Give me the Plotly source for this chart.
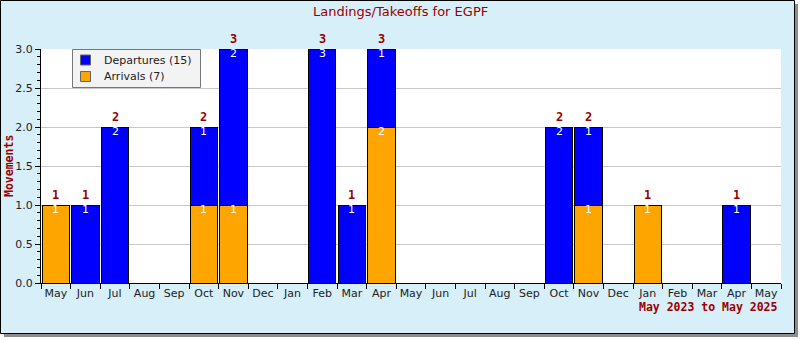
import plotly.graph_objects as go

months = ["2023-05", "2023-06", "2023-07", "2023-08", "2023-09", "2023-10", "2023-11",
          "2023-12", "2024-01", "2024-02", "2024-03", "2024-04", "2024-05", "2024-06",
          "2024-07", "2024-08", "2024-09", "2024-10", "2024-11", "2024-12", "2025-01",
          "2025-02", "2025-03", "2025-04", "2025-05"]
month_labels = ["May", "Jun", "Jul", "Aug", "Sep", "Oct", "Nov", "Dec", "Jan", "Feb", "Mar",
                "Apr", "May", "Jun", "Jul", "Aug", "Sep", "Oct", "Nov", "Dec", "Jan", "Feb",
                "Mar", "Apr", "May"]
arrivals = [1, 0, 0, 0, 0, 1, 1, 0, 0, 0, 0, 2, 0, 0, 0, 0, 0, 0, 1, 0, 1, 0, 0, 0, 0]
departures = [0, 1, 2, 0, 0, 1, 2, 0, 0, 3, 1, 1, 0, 0, 0, 0, 0, 2, 1, 0, 0, 0, 0, 1, 0]

totals = [a + d for a, d in zip(arrivals, departures)]
DARKRED = "#9b0000"
DEP_COLOR = "#0000ff"
ARR_COLOR = "#ffa500"
dep_name = f"Departures ({sum(departures)})"
arr_name = f"Arrivals ({sum(arrivals)})"

W, H = 800, 340
L, R, T, B = 41, 781, 49, 283
pw, ph = R - L, B - T


def px_x(p):
    return (p - L) / pw


def px_y(p):
    return (B - p) / ph


fig = go.Figure()
fig.add_trace(go.Bar(
    x=months, y=arrivals, name=arr_name,
    marker=dict(color=ARR_COLOR, line=dict(color="black", width=1)),
    hoverinfo="skip", showlegend=False,
))
fig.add_trace(go.Bar(
    x=months, y=departures, name=dep_name,
    marker=dict(color=DEP_COLOR, line=dict(color="black", width=1)),
    hoverinfo="skip", showlegend=False,
))

annotations = []
# white value labels at the top of each stacked segment
for m, a, d in zip(months, arrivals, departures):
    for top, v in ((a, a), (a + d, d)):
        if v:
            annotations.append(dict(
                text=str(v), x=m, y=top, xref="x", yref="y", showarrow=False,
                xanchor="center", yanchor="middle", yshift=-4.5, borderpad=0,
                font=dict(family="DejaVu Sans", size=11, color="white")))
# dark red totals above the bars
for m, t in zip(months, totals):
    if t:
        annotations.append(dict(
            text=str(t), x=m, y=t, xref="x", yref="y", showarrow=False,
            xanchor="center", yanchor="middle", yshift=10.5, borderpad=0,
            font=dict(family="DejaVu Sans Mono", size=12, color=DARKRED, weight="bold")))

annotations += [
    dict(text="Landings/Takeoffs for EGPF", xref="paper", yref="paper",
         x=px_x(400), y=px_y(12), showarrow=False, xanchor="center", yanchor="middle",
         font=dict(family="DejaVu Sans", size=13, color=DARKRED)),
    dict(text="Movements", xref="paper", yref="paper", textangle=-90,
         x=px_x(9), y=px_y(166), showarrow=False, xanchor="center", yanchor="middle",
         font=dict(family="DejaVu Sans Mono", size=11.5, color=DARKRED, weight="bold")),
    dict(text="May 2023 to May 2025", xref="paper", yref="paper",
         x=px_x(780), y=px_y(307), showarrow=False, xanchor="right", yanchor="middle",
         font=dict(family="DejaVu Sans Mono", size=11.5, color=DARKRED, weight="bold")),
]

shapes = [
    dict(type="rect", xref="paper", yref="paper", layer="below",
         x0=px_x(4), x1=px_x(798), y0=px_y(337), y1=px_y(4),
         fillcolor="#8c8c8c", line=dict(width=0)),
    dict(type="rect", xref="paper", yref="paper", layer="below",
         x0=px_x(0.5), x1=px_x(794.5), y0=px_y(333.5), y1=px_y(0.5),
         fillcolor="#d7eff9", line=dict(color="black", width=1)),
    dict(type="rect", xref="paper", yref="paper", layer="below",
         x0=0, x1=1, y0=0, y1=1, fillcolor="white", line=dict(width=0)),
    # legend box
    dict(type="rect", xref="paper", yref="paper", layer="above",
         x0=px_x(72.5), x1=px_x(200.5), y0=px_y(87.5), y1=px_y(49.5),
         fillcolor="#f3f3f3", line=dict(color="#777", width=1)),
]

legend_items = [(dep_name, DEP_COLOR, 60), (arr_name, ARR_COLOR, 76.5)]
for name, color, cy in legend_items:
    shapes.append(dict(type="rect", xref="paper", yref="paper", layer="above",
                       x0=px_x(80.5), x1=px_x(90.5), y0=px_y(cy + 5), y1=px_y(cy - 5),
                       fillcolor=color, line=dict(color="#666", width=1)))
    annotations.append(dict(text=name, xref="paper", yref="paper", x=px_x(102),
                            y=px_y(cy), xanchor="left", yanchor="middle", showarrow=False,
                            font=dict(family="DejaVu Sans", size=11, color="#222")))

fig.update_layout(
    width=W, height=H, autosize=False,
    margin=dict(l=L, r=W - R, t=T, b=H - B, pad=0),
    paper_bgcolor="white", plot_bgcolor="white",
    barmode="stack", bargap=0.07,
    font=dict(family="DejaVu Sans", size=11, color="#222"),
    showlegend=False,
    shapes=shapes, annotations=annotations,
)
fig.update_xaxes(
    type="category", categoryorder="array", categoryarray=months,
    range=[-0.5, len(months) - 0.5],
    tickmode="array", tickvals=months, ticktext=month_labels, tickangle=0,
    tickson="boundaries", ticks="outside", ticklen=5, tickcolor="black",
    showline=True, linecolor="black", linewidth=1, showgrid=False,
    tickfont=dict(size=11, color="#222"), fixedrange=True,
)
fig.update_yaxes(
    range=[0, 3], dtick=0.5, tickformat=".1f", ticks="outside", ticklen=5,
    tickcolor="black", showline=True, linecolor="black", linewidth=1,
    showgrid=True, gridcolor="#c8c8c8", gridwidth=1, zeroline=False,
    minor=dict(dtick=0.1, ticks="outside", ticklen=3, tickcolor="black", showgrid=False),
    tickfont=dict(size=11, color="#222"), fixedrange=True,
)

fig.write_html("out.html", config={"displayModeBar": False})
